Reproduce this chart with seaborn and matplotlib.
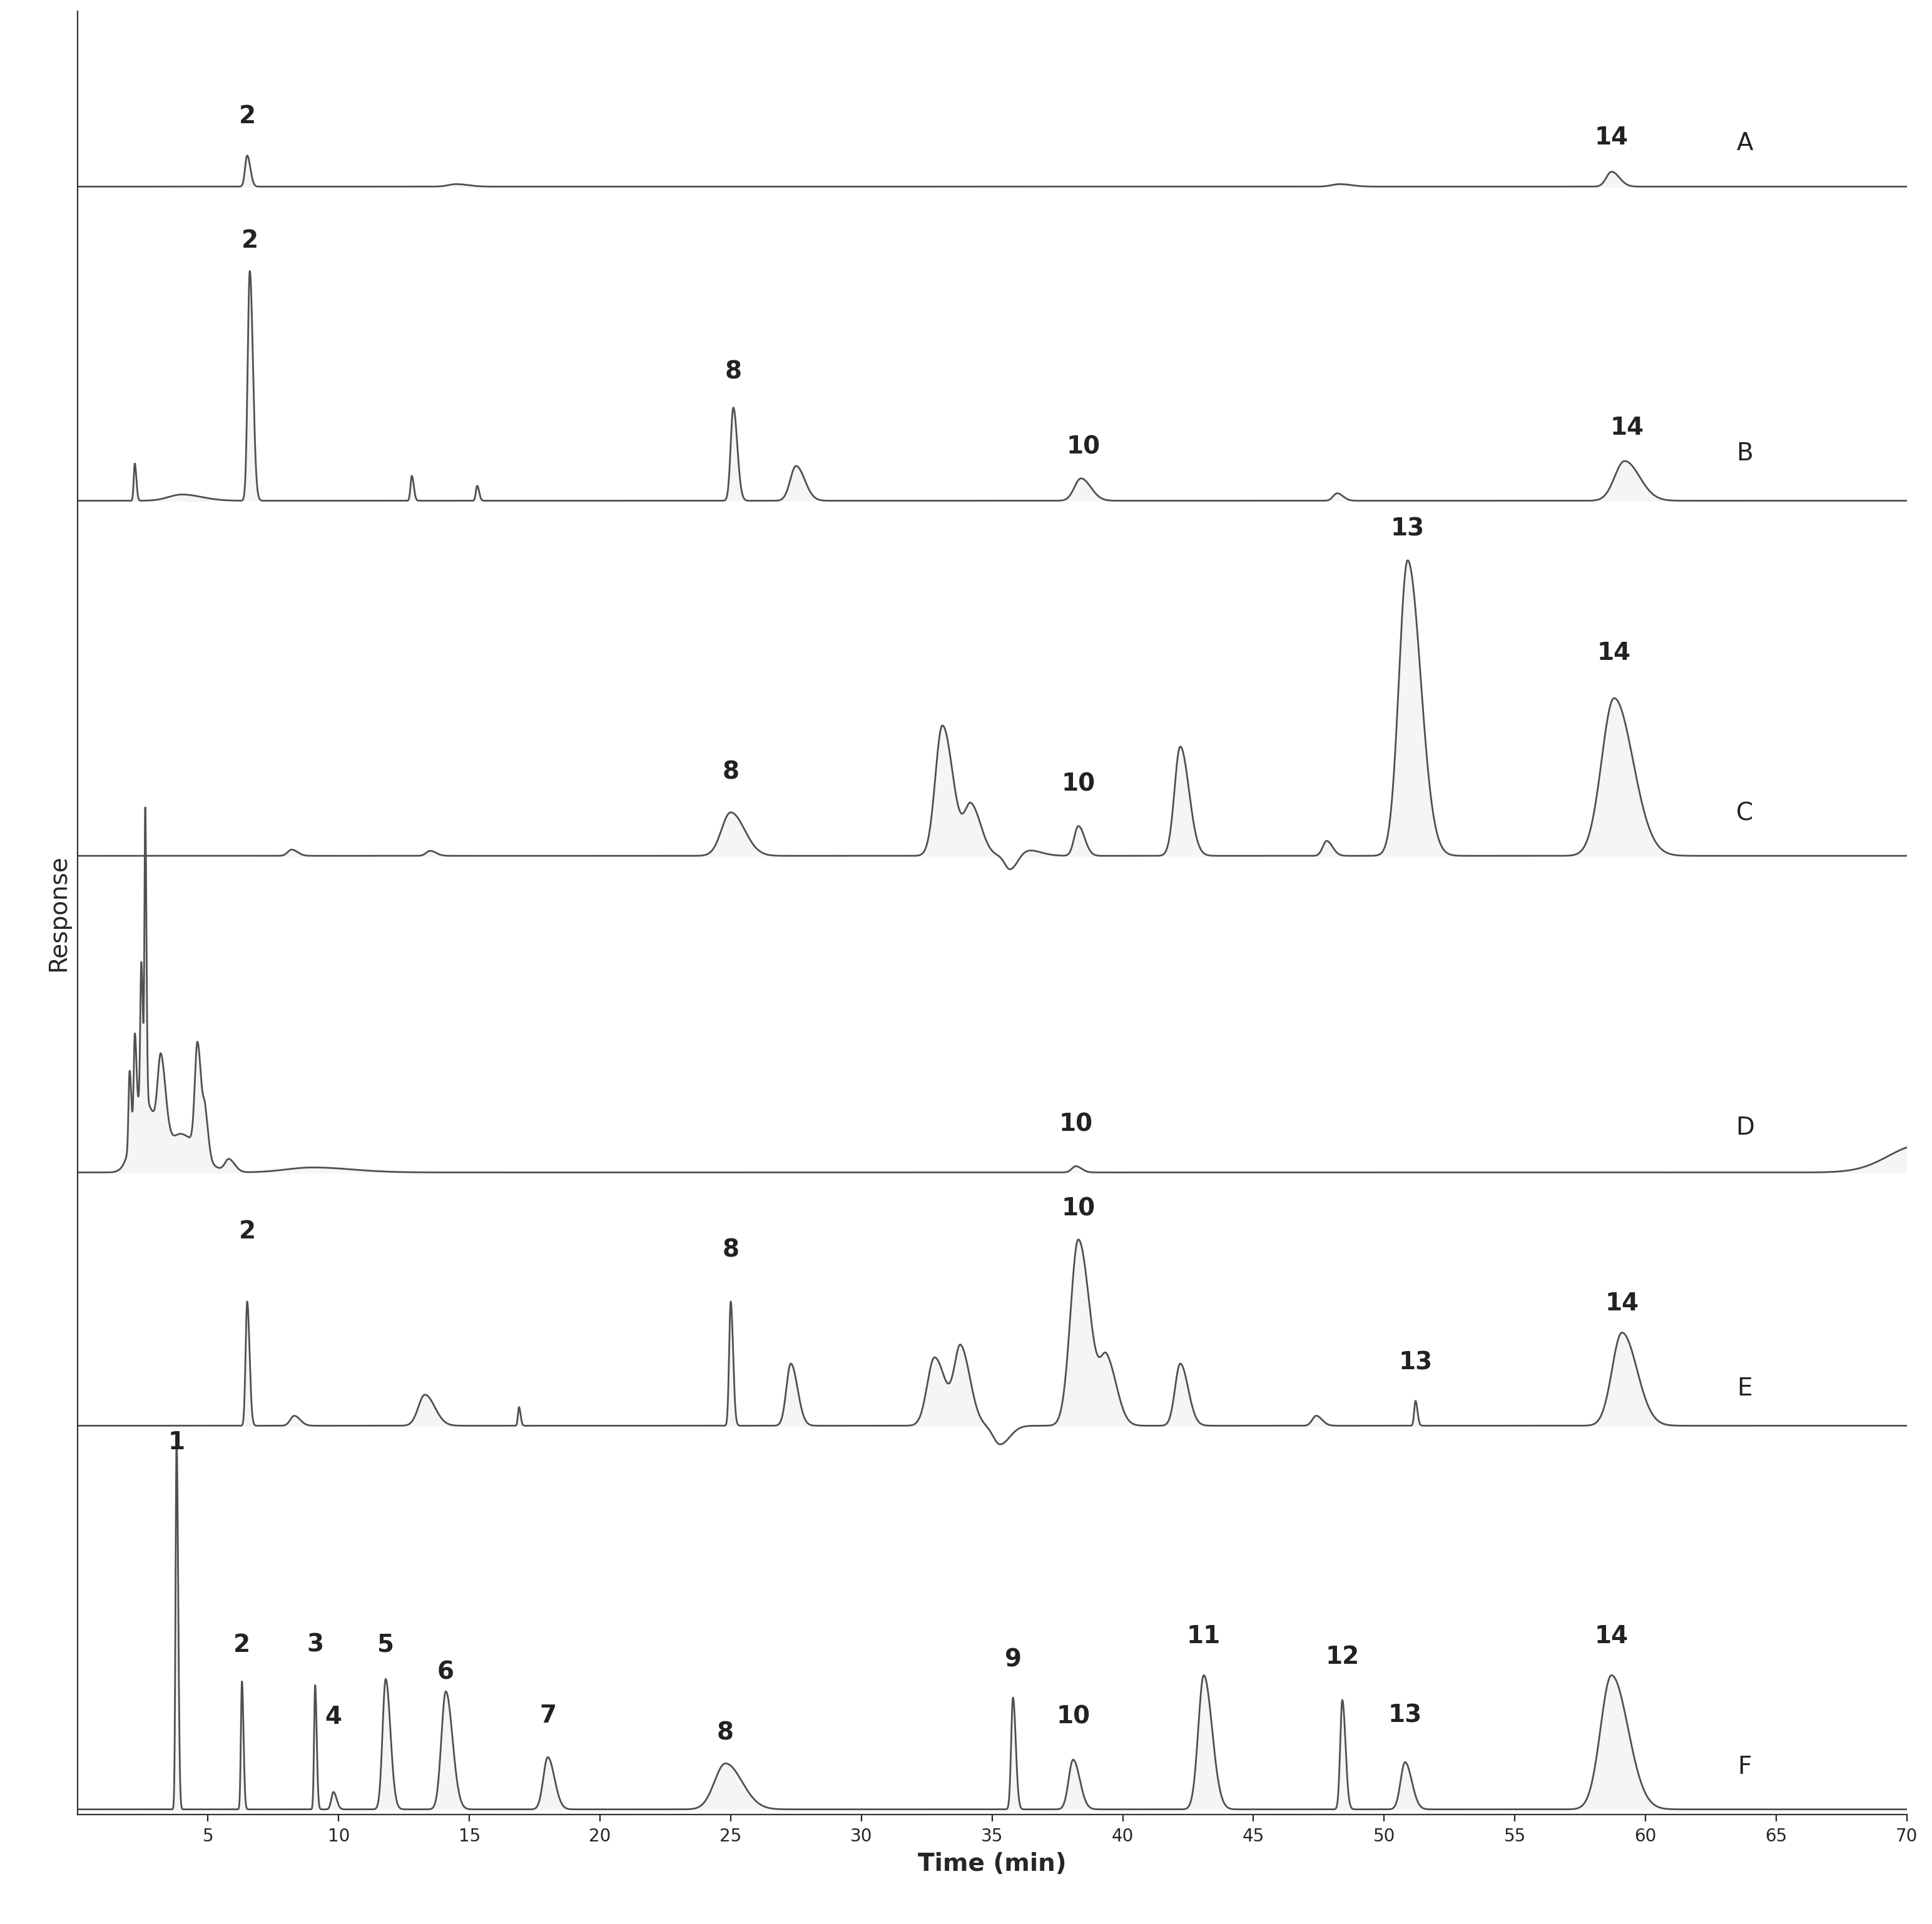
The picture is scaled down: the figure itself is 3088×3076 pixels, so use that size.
import numpy as np
import matplotlib
matplotlib.use("Agg")
import matplotlib.pyplot as plt
import seaborn as sns

sns.set_style("white")
plt.rcParams['font.family'] = ['DejaVu Sans']

# Peak tables per trace: retention time (min), height, width (min)
a_rt = [6.5, 58.7, 14.5, 48.3]
a_h = [25, 12, 2, 2]
a_w = [0.08, 0.2, 0.3, 0.3]

b_rt = [2.2, 4.0, 6.6, 12.8, 15.3, 25.1, 27.5, 38.4, 48.2, 59.2]
b_h = [30, 5, 185, 20, 12, 75, 28, 18, 6, 32]
b_w = [0.04, 0.5, 0.08, 0.05, 0.05, 0.1, 0.22, 0.25, 0.15, 0.38]

c_rt = [8.2, 13.5, 25.0, 33.1, 34.2, 35.7, 36.3, 38.3, 42.2, 47.8, 50.9, 58.8]
c_h = [5, 4, 35, 105, 40, -12, 5, 24, 88, 12, 238, 127]
c_w = [0.15, 0.15, 0.35, 0.27, 0.25, 0.2, 0.35, 0.16, 0.22, 0.15, 0.33, 0.48]

d_rt = [2.0, 2.2, 2.45, 2.6, 2.5, 3.2, 4.0, 4.6, 4.9, 5.8, 9.0, 38.2, 70.5]
d_h = [60, 70, 110, 230, 60, 65, 30, 85, 30, 10, 4, 5, 22]
d_w = [0.04, 0.04, 0.04, 0.03, 0.35, 0.12, 0.45, 0.1, 0.08, 0.15, 1.0, 0.15, 1.2]

e_rt = [6.5, 8.3, 13.3, 16.9, 25.0, 27.3, 32.8, 33.8, 35.3, 38.3, 39.4, 42.2, 47.4, 51.2, 59.1]
e_h = [100, 8, 25, 15, 100, 50, 55, 62, -15, 150, 50, 50, 8, 20, 75]
e_w = [0.06, 0.15, 0.25, 0.04, 0.06, 0.17, 0.28, 0.24, 0.25, 0.3, 0.25, 0.2, 0.15, 0.05, 0.38]

f_rt = [3.8, 6.3, 9.1, 9.8, 11.8, 14.1, 18.0, 24.8, 35.8, 38.1, 43.1, 48.4, 50.8, 58.7]
f_h = [297, 103, 100, 14, 105, 95, 42, 37, 90, 40, 108, 88, 38, 108]
f_w = [0.04, 0.04, 0.04, 0.08, 0.12, 0.17, 0.17, 0.42, 0.07, 0.17, 0.21, 0.08, 0.17, 0.42]

# Peak labels: (label, time, height above baseline)
a_lab = [("2", 6.5, 47), ("14", 58.7, 30)]
b_lab = [("2", 6.6, 200), ("8", 25.1, 94), ("10", 38.5, 34), ("14", 59.3, 49)]
c_lab = [("8", 25.0, 58), ("10", 38.3, 48), ("13", 50.9, 254), ("14", 58.8, 154)]
d_lab = [("10", 38.2, 29)]
e_lab = [("2", 6.5, 147), ("8", 25.0, 132), ("10", 38.3, 165), ("13", 51.2, 41), ("14", 59.1, 89)]
f_lab = [("1", 3.8, 286), ("2", 6.3, 123), ("3", 9.1, 123), ("4", 9.8, 65), ("5", 11.8, 123),
         ("6", 14.1, 101), ("7", 18.0, 66), ("8", 24.8, 52), ("9", 35.8, 111), ("10", 38.1, 65),
         ("11", 43.1, 130), ("12", 48.4, 113), ("13", 50.8, 66), ("14", 58.7, 130)]

names = ["A", "B", "C", "D", "E", "F"]
baselines = [1311, 1058, 772, 517, 313, 4]
letter_h = [35, 38, 34, 36, 30, 34]
peaks = [(a_rt, a_h, a_w), (b_rt, b_h, b_w), (c_rt, c_h, c_w),
         (d_rt, d_h, d_w), (e_rt, e_h, e_w), (f_rt, f_h, f_w)]
labels = [a_lab, b_lab, c_lab, d_lab, e_lab, f_lab]

t = np.linspace(0, 70, 14001)


def trace(rt, h, w):
    y = np.zeros_like(t)
    for r, hh, ww in zip(rt, h, w):
        width = np.where(t < r, ww, ww * 1.5)
        y += hh * np.exp(-0.5 * ((t - r) / width) ** 2)
    return y


fig = plt.figure(figsize=(15.44, 15.38), dpi=200)
ax = fig.add_axes([0.04, 0.057, 0.947, 0.937])

for name, base, lh, pk, lab in zip(names, baselines, letter_h, peaks, labels):
    y = base + trace(*pk)
    sns.lineplot(x=t, y=y, ax=ax, color="#505050", linewidth=1.0)
    ax.fill_between(t, base, y, where=y > base, color="#f5f5f5", zorder=0)
    for txt, x, hy in lab:
        ax.text(x, base + hy, txt, ha="center", va="bottom", fontsize=14, fontweight="semibold",
                color="#222222")
    ax.text(63.8, base + lh, name, ha="center", va="center", fontsize=14, color="#222222")

ax.set_xlim(0, 70)
ax.set_ylim(0, 1452)
ax.set_xticks(range(5, 71, 5))
ax.set_yticks([])
ax.tick_params(axis="x", labelsize=10, length=4, direction="out", bottom=True)
ax.set_xlabel("Time (min)", fontsize=14, fontweight="semibold")
ax.set_ylabel("Response", fontsize=14)
sns.despine(ax=ax)
for s in ["left", "bottom"]:
    ax.spines[s].set_color("#333333")

fig.savefig("out.png", dpi=200)
